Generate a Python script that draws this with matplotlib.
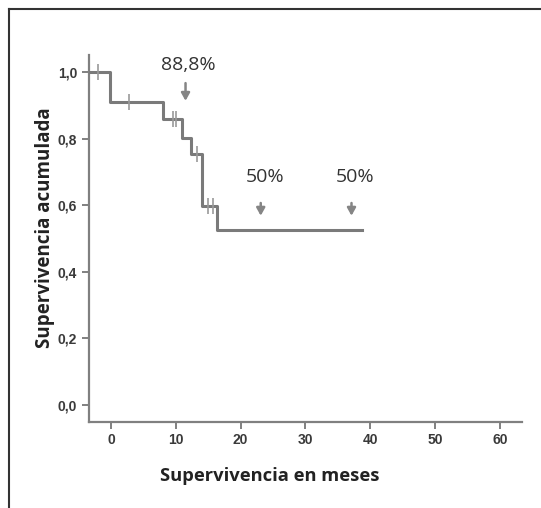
import matplotlib
matplotlib.use("Agg")
import matplotlib.pyplot as plt
from matplotlib.lines import Line2D

# data
step_times = [-3.3, -0.2, 8.0, 10.9, 12.3, 14.0, 16.3, 38.7]
step_surv = [1.0, 0.911, 0.858, 0.803, 0.753, 0.598, 0.525, 0.525]
censor_times = [-2.0, 2.8, 9.5, 10.1, 13.3, 14.9, 15.8]
censor_surv = [1.0, 0.911, 0.858, 0.858, 0.753, 0.598, 0.598]

notes = ["88,8%", "50%", "50%"]
note_x = [11.5, 23.1, 37.1]
note_text_y = [1.02, 0.685, 0.685]
arrow_top = [0.975, 0.615, 0.615]
arrow_bottom = [0.905, 0.56, 0.56]

xticks = [0, 10, 20, 30, 40, 50, 60]
yticks = [0.0, 0.2, 0.4, 0.6, 0.8, 1.0]

fig = plt.figure(figsize=(5.41, 5.08), dpi=100)
ax = fig.add_axes([0.1645, 0.1699, 0.7998, 0.7218])

gray = "#7a7a7a"
ax.step(step_times, step_surv, where="post", color=gray, lw=2.2, zorder=3)
ax.plot(censor_times, censor_surv, ls="none", marker="|", ms=12, mew=1.2,
        color="#9a9a9a", zorder=4)

# arrows and percentage notes
for t, x, ty, a0, a1 in zip(notes, note_x, note_text_y, arrow_top, arrow_bottom):
    ax.annotate("", xy=(x, a1), xytext=(x, a0),
                arrowprops=dict(arrowstyle="-|>,head_length=0.45,head_width=0.25",
                                color="#858585", lw=1.8))
    ax.text(x + (0.6 if t != "88,8%" else 0.5), ty, t, ha="center", va="center",
            fontsize=14, color="#333333", family="Open Sans")

ax.set_xlim(-3.39, 63.35)
ax.set_ylim(-0.05, 1.051)
ax.set_xticks(xticks)
ax.set_yticks(yticks)
ax.set_xticklabels([str(v) for v in xticks])
ax.set_yticklabels([f"{v:.1f}".replace(".", ",") for v in yticks])

for s in ["top", "right"]:
    ax.spines[s].set_visible(False)
for s in ["left", "bottom"]:
    ax.spines[s].set_color("#808080")
    ax.spines[s].set_linewidth(1.6)
ax.tick_params(colors="#808080", width=1.4, length=5, labelsize=10,
               labelcolor="#3a3a3a")
for lbl in ax.get_xticklabels() + ax.get_yticklabels():
    lbl.set_family("Liberation Sans")
    lbl.set_fontweight("bold")

ax.set_xlabel("Supervivencia en meses", fontsize=13.2, fontweight="bold",
              family="Open Sans", color="#222222")
ax.xaxis.set_label_coords(0.418, -0.124)
ax.set_ylabel("Supervivencia acumulada", fontsize=13.5, fontweight="bold",
              family="Open Sans", color="#222222")
ax.yaxis.set_label_coords(-0.079, 0.53)

# frame lines of the original figure (top and left only)
fig.add_artist(Line2D([9 / 541, 1], [1 - 9 / 508, 1 - 9 / 508],
                      transform=fig.transFigure, color="#333333", lw=1.5))
fig.add_artist(Line2D([9 / 541, 9 / 541], [0, 1 - 9 / 508],
                      transform=fig.transFigure, color="#333333", lw=1.5))

fig.savefig("out.png", dpi=100)
